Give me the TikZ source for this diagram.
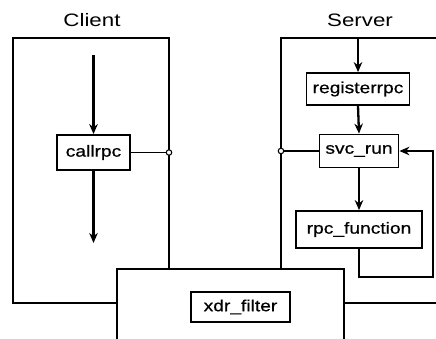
\documentclass[tikz,border=0pt]{standalone}
\usepackage{fontspec}
\newfontfamily\lblfont[FakeStretch=1.24]{Liberation Sans}
\newfontfamily\boxfont[FakeStretch=1.2,FakeBold=0.6]{Liberation Sans}
\usetikzlibrary{arrows.meta}
\usetikzlibrary{positioning}

\begin{document}
\begin{tikzpicture}[x=1pt, y=-1pt,
	fn/.style={draw, line width=1.8pt, fill=white, inner sep=0pt, font={\boxfont\fontsize{16}{18}\selectfont}},
	flow/.style={line width=2.3pt, -{Stealth[length=10pt,width=8.5pt]}},
	wire/.style={line width=1.5pt},
	port/.style={circle, draw, fill=white, line width=1.1pt, inner sep=0pt, minimum size=5.5pt}]
		\useasboundingbox (0,0) rectangle (436,339);
		\clip (0,0) rectangle (436,339);
		\node[font={\lblfont\fontsize{18}{20}\selectfont}] (client) at (92,20) {Client};
		\node[font={\lblfont\fontsize{18}{20}\selectfont}] (server) at (360,20) {Server};
		% frames
		\draw[line width=1.8pt] (13,38) rectangle (169,303);
		\draw[line width=1.8pt] (281,38) rectangle (450,303);
		\draw[line width=1.8pt, fill=white] (117,269) rectangle (344,350);
		% client side
		\node[fn, minimum width=73pt, minimum height=35pt] (callrpc) at (93.5,152.5) {callrpc};
		\coordinate (cin) at (93.5,55);
		\coordinate (cout) at (93.5,243);
		\node[port] (cport) at (169,152.5) {};
		\draw[flow] (cin) -- (callrpc.north);
		\draw[flow] (callrpc.south) -- (cout);
		\draw[wire] (callrpc.east) -- (cport.west);
		% server side
		\node[fn, minimum width=103pt, minimum height=32pt] (regrpc) at (358,89) {registerrpc};
		\node[fn, minimum width=79pt, minimum height=33pt] (svcrun) at (359,151) {svc\_run};
		\node[fn, minimum width=126pt, minimum height=37pt] (rpcfn) at (359,229.5) {rpc\_function};
		\coordinate (sin) at (358,38);
		\node[port] (sport) at (281,151) {};
		\draw[flow] (sin) -- (regrpc.north);
		\draw[flow] (regrpc.south) -- (svcrun.north);
		\draw[flow] (svcrun.south) -- (rpcfn.north);
		\draw[wire] (svcrun.west) -- (sport.east);
		\draw[flow] (rpcfn.south) -- ++(0,28) -| (433,151) -- (svcrun.east);
		% filter
		\node[fn, minimum width=99pt, minimum height=30pt] (xdr) at (240.5,307) {xdr\_filter};
	\end{tikzpicture}
\end{document}
